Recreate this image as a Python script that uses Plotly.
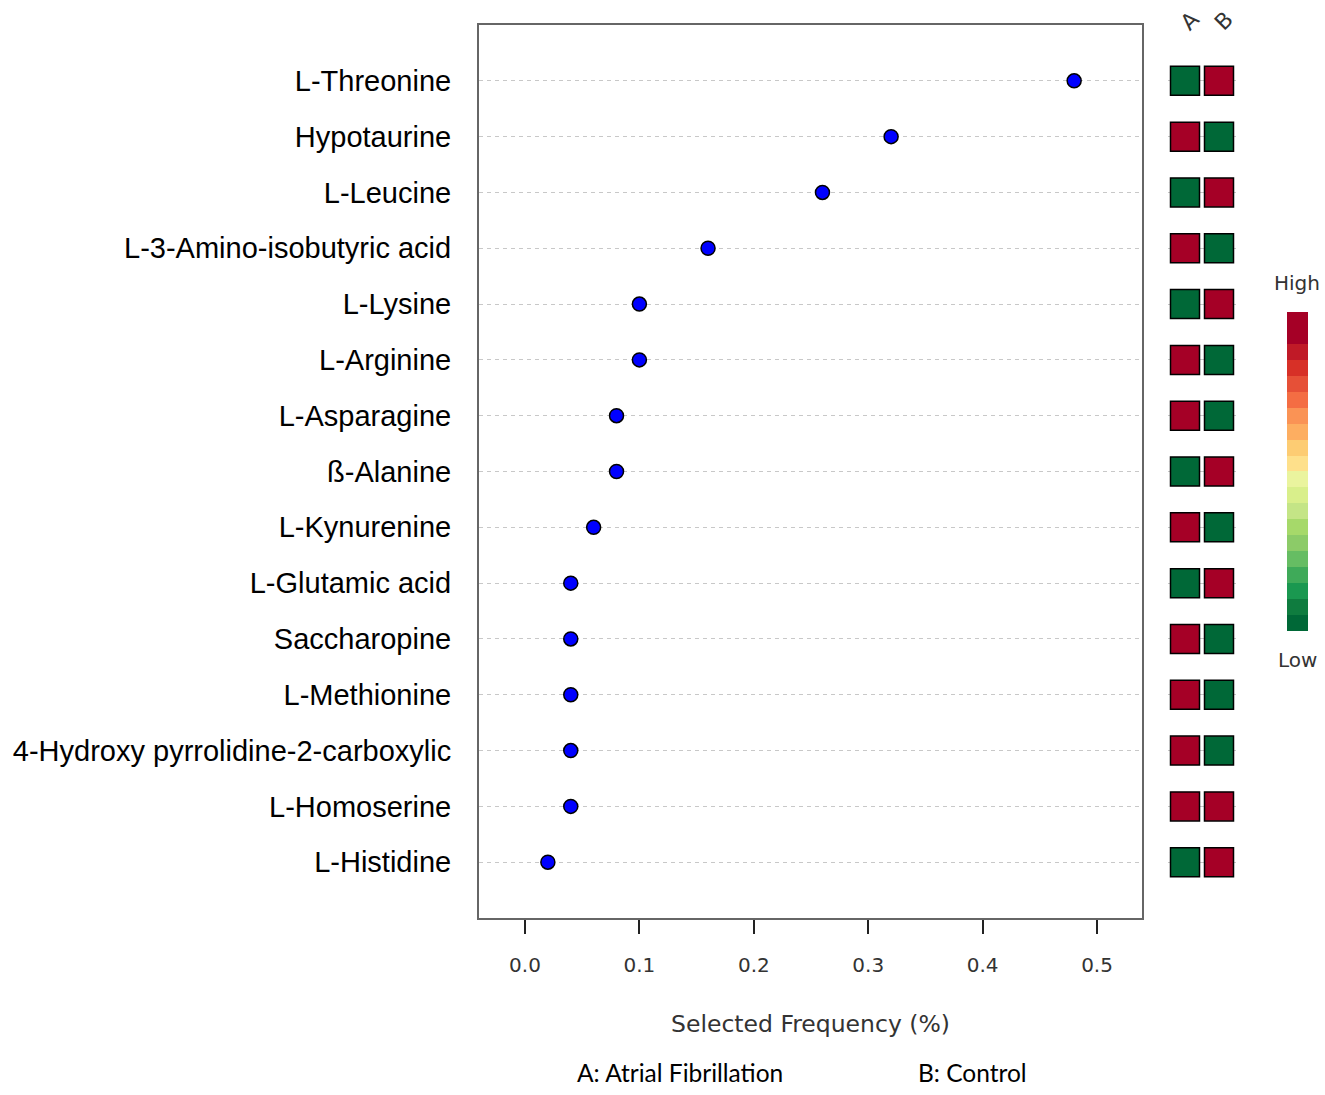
import plotly.graph_objects as go

features = ["L-Threonine", "Hypotaurine", "L-Leucine", "L-3-Amino-isobutyric acid",
            "L-Lysine", "L-Arginine", "L-Asparagine", "ß-Alanine", "L-Kynurenine",
            "L-Glutamic acid", "Saccharopine", "L-Methionine",
            "4-Hydroxy pyrrolidine-2-carboxylic", "L-Homoserine", "L-Histidine"]
frequency = [0.48, 0.32, 0.26, 0.16, 0.10, 0.10, 0.08, 0.08, 0.06,
             0.04, 0.04, 0.04, 0.04, 0.04, 0.02]
# 1 = high (red), 0 = low (green)
group_A = [0, 1, 0, 1, 0, 1, 1, 0, 1, 0, 1, 1, 1, 1, 0]
group_B = [1, 0, 1, 0, 1, 0, 0, 1, 0, 1, 0, 0, 0, 1, 1]
groups = ["A", "B"]
x_ticks = [0.0, 0.1, 0.2, 0.3, 0.4, 0.5]
x_tick_labels = ["0.0", "0.1", "0.2", "0.3", "0.4", "0.5"]

rdylgn = ["#006837", "#0f7c3f", "#1a9850", "#3faa59", "#66bd63", "#8ccb68",
          "#a6d96a", "#c4e586", "#d9ef8b", "#eaf49e", "#fee08b", "#fdcc73",
          "#fdae61", "#fa9355", "#f46d43", "#e65037", "#d73027", "#c01a27",
          "#a50026", "#a50026"]
n = len(rdylgn)
colorscale = []
for i, c in enumerate(rdylgn):
    colorscale.append([i / n, c])
    colorscale.append([(i + 1) / n, c])

W, H = 1325, 1095
def px_x(p):
    return p / W
def px_y(p):
    return 1 - p / H

rows = list(range(1, len(features) + 1))

fig = go.Figure()

fig.add_trace(go.Scatter(
    x=frequency, y=rows, mode="markers",
    marker=dict(color="#0000ff", size=14, line=dict(color="black", width=1.5)),
    xaxis="x", yaxis="y", showlegend=False, hoverinfo="x+text", text=features,
))

hx, hy, hv = [], [], []
for r, a, b in zip(rows, group_A, group_B):
    hx += [0, 1]
    hy += [r, r]
    hv += [a, b]

fig.add_trace(go.Scatter(
    x=hx, y=hy, mode="markers",
    marker=dict(symbol="square", size=29, color=hv, cmin=0, cmax=1,
                colorscale=colorscale,
                line=dict(color="black", width=1.5),
                colorbar=dict(thickness=21, len=319, lenmode="pixels",
                              x=px_x(1287), xanchor="left", xpad=0, ypad=0,
                              y=px_y(472), yanchor="middle",
                              outlinewidth=0, showticklabels=False, ticks="")),
    xaxis="x2", yaxis="y", showlegend=False, hoverinfo="skip",
))

fig.update_layout(
    width=W, height=H,
    margin=dict(l=0, r=0, t=0, b=0),
    paper_bgcolor="white", plot_bgcolor="white",
    font=dict(family="Liberation Sans, Arial, sans-serif", color="black"),
    xaxis=dict(domain=[px_x(479), px_x(1142)], range=[-0.0402, 0.5393],
               tickvals=x_ticks, ticktext=x_tick_labels,
               ticks="outside", ticklen=14, tickwidth=1.5, tickcolor="#222",
               ticklabelstandoff=14,
               tickfont=dict(family="DejaVu Sans", size=20, color="#333"),
               showgrid=False, zeroline=False,
               showline=True, mirror=True, linecolor="#666", linewidth=2,
               title=dict(text="Selected Frequency (%)", standoff=40,
                          font=dict(family="DejaVu Sans", size=23.5, color="#333"))),
    yaxis=dict(domain=[px_y(918), px_y(25)], range=[16, 0],
               tickvals=rows, ticktext=features,
               tickfont=dict(family="Liberation Sans", size=29, color="black"),
               ticks="", ticklabelstandoff=20,
               showgrid=True, gridcolor="#c8c8c8", gridwidth=1, griddash="4px,4px",
               zeroline=False,
               showline=True, mirror=True, linecolor="#666", linewidth=2),
    xaxis2=dict(domain=[px_x(1168), px_x(1236)], range=[-0.5, 1.5], anchor="y",
                showgrid=False, zeroline=False, showticklabels=False, ticks="",
                showline=False),
)

annotations = []
for g, xv in zip(groups, [0, 1]):
    annotations.append(dict(x=xv, y=px_y(21), xref="x2", yref="paper", text=g,
                            showarrow=False, textangle=-45, xshift=4,
                            font=dict(family="DejaVu Sans", size=22, color="#333"),
                            xanchor="center", yanchor="middle"))
annotations.append(dict(x=px_x(1297), y=px_y(283), xref="paper", yref="paper",
                        text="High", showarrow=False,
                        font=dict(family="DejaVu Sans", size=20, color="#333"),
                        xanchor="center", yanchor="middle"))
annotations.append(dict(x=px_x(1297), y=px_y(660), xref="paper", yref="paper",
                        text="Low", showarrow=False,
                        font=dict(family="DejaVu Sans", size=20, color="#333"),
                        xanchor="center", yanchor="middle"))
annotations.append(dict(x=px_x(575), y=px_y(1072), xref="paper", yref="paper",
                        text="A: Atrial Fibrillation", showarrow=False,
                        font=dict(family="Lato", size=24.5, color="black"),
                        xanchor="left", yanchor="middle"))
annotations.append(dict(x=px_x(916), y=px_y(1072), xref="paper", yref="paper",
                        text="B: Control", showarrow=False,
                        font=dict(family="Lato", size=24.5, color="black"),
                        xanchor="left", yanchor="middle"))
fig.update_layout(annotations=annotations)

fig.write_html("out.html",
               config={"displayModeBar": False},
               post_script="document.body.style.margin='0';"
                           "document.body.style.overflow='hidden';")
